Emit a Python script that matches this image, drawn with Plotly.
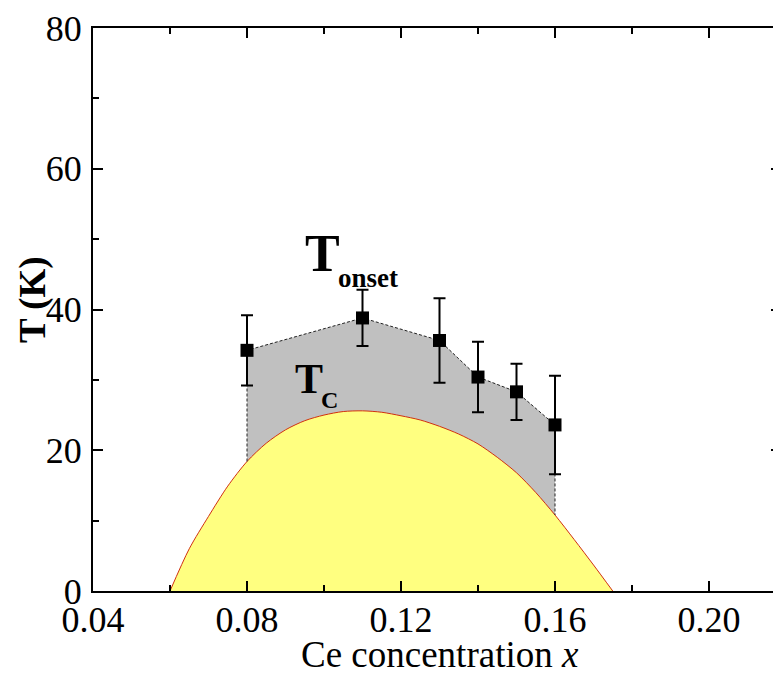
import plotly.graph_objects as go

# T_onset data (squares with error bars)
x_onset = [0.08, 0.11, 0.13, 0.14, 0.15, 0.16]
t_onset = [34.2, 38.8, 35.6, 30.4, 28.3, 23.6]
t_onset_err = [5.0, 4.0, 6.0, 5.0, 4.0, 7.0]

# Tc dome (yellow region)
x_tc = [0.060, 0.065, 0.070, 0.075, 0.080, 0.085, 0.090, 0.095, 0.100, 0.105,
        0.110, 0.115, 0.120, 0.125, 0.130, 0.135, 0.140, 0.145, 0.150, 0.155,
        0.160, 0.165, 0.170, 0.175]
t_tc = [0.0, 6.0, 10.6, 14.9, 18.4, 21.0, 22.9, 24.2, 25.0, 25.5,
        25.6, 25.4, 24.9, 24.3, 23.4, 22.3, 20.9, 19.0, 16.8, 14.0,
        10.8, 7.3, 3.7, 0.0]

x_ticks = [0.04, 0.08, 0.12, 0.16, 0.20]
x_tick_labels = ["0.04", "0.08", "0.12", "0.16", "0.20"]
y_ticks = [0, 20, 40, 60, 80]

tc_start = t_tc[x_tc.index(x_onset[0])]
tc_end = t_tc[x_tc.index(x_onset[-1])]

FONT = "Liberation Serif, Times New Roman, serif"

# page body has an 8px default margin: figure is placed at (8, 8)
OFF = 8
PL, PT, PB = 93, 28, 591          # plot-area edges in page pixels
FIG_W, FIG_H = 781 - OFF, 681 - 2 * OFF

fig = go.Figure()

# grey region between Tc and T_onset
fig.add_trace(go.Scatter(
    x=[x_onset[0]] + x_onset + [x_onset[-1]],
    y=[0] + t_onset + [0],
    fill="toself", fillcolor="#c0c0c0", mode="none", showlegend=False,
    hoverinfo="skip"))

# yellow Tc dome
fig.add_trace(go.Scatter(
    x=x_tc, y=t_tc, fill="tozeroy", fillcolor="#ffff80",
    mode="lines", line=dict(color="#d03010", width=1, shape="spline", smoothing=0.8),
    showlegend=False, hoverinfo="skip"))

# dashed outline of T_onset region
fig.add_trace(go.Scatter(
    x=[x_onset[0]] + x_onset + [x_onset[-1]],
    y=[tc_start] + t_onset + [tc_end],
    mode="lines", line=dict(color="#222222", width=1, dash="3px,2px"),
    showlegend=False, hoverinfo="skip"))

# T_onset points
fig.add_trace(go.Scatter(
    x=x_onset, y=t_onset, mode="markers",
    marker=dict(symbol="square", size=13, color="black"),
    error_y=dict(type="data", array=t_onset_err, visible=True,
                 color="black", thickness=2, width=6),
    showlegend=False))

# invisible trace to activate right-hand tick axis
fig.add_trace(go.Scatter(x=[0.05], y=[0], yaxis="y2", mode="markers",
                         marker=dict(opacity=0), showlegend=False, hoverinfo="skip"))

plot_w = FIG_W - (PL - OFF)
plot_h = PB - PT

fig.update_layout(
    width=FIG_W, height=FIG_H,
    margin=dict(l=PL - OFF, r=0, t=PT - OFF, b=FIG_H - (PB - OFF), autoexpand=False),
    paper_bgcolor="white", plot_bgcolor="white",
    font=dict(family=FONT, color="black"),
    xaxis=dict(
        range=[0.04, 0.04 + plot_w / 3850], tickmode="array",
        tickvals=x_ticks, ticktext=x_tick_labels, automargin=False,
        ticks="inside", ticklen=10, tickwidth=2, tickcolor="black",
        showline=True, linewidth=2, linecolor="black", mirror="ticks",
        showgrid=False, zeroline=False, ticklabelstandoff=-4,
        tickfont=dict(size=36, family=FONT, color="black"),
        minor=dict(dtick=0.02, tick0=0.06, ticks="inside", ticklen=6,
                   tickwidth=2, tickcolor="black", showgrid=False),
    ),
    yaxis=dict(
        range=[0, 80], tickmode="array", tickvals=y_ticks, automargin=False,
        ticks="inside", ticklen=10, tickwidth=2, tickcolor="black",
        showline=True, linewidth=2, linecolor="black", mirror=False,
        showgrid=False, zeroline=False, ticklabelstandoff=2,
        tickfont=dict(size=36, family=FONT, color="black"),
        minor=dict(dtick=10, tick0=10, ticks="inside", ticklen=6,
                   tickwidth=2, tickcolor="black", showgrid=False),
    ),
    yaxis2=dict(
        overlaying="y", side="right", range=[0, 80], tickmode="array",
        tickvals=y_ticks, ticks="inside", ticklen=10, tickwidth=2,
        tickcolor="black", showticklabels=False, showline=False,
        showgrid=False, zeroline=False, automargin=False,
        minor=dict(dtick=10, tick0=10, ticks="inside", ticklen=5,
                   tickwidth=1, tickcolor="#bbbbbb", showgrid=False),
    ),
    annotations=[
        # axis titles
        dict(text="Ce concentration <i>x</i>", x=(440 - PL) / plot_w,
             y=-(654 - PB) / plot_h,
             xref="paper", yref="paper", xanchor="center", yanchor="middle",
             showarrow=False, font=dict(size=37, family=FONT, color="black")),
        dict(text="<b>T (K)</b>", x=-(PL - 33) / plot_w, y=(PB - 300) / plot_h,
             xref="paper", yref="paper", xanchor="center", yanchor="middle",
             textangle=-90, showarrow=False,
             font=dict(size=37, family=FONT, color="black")),
        # T_onset label
        dict(text="<b>T</b>", x=0.0946, y=48.0, xref="x", yref="y",
             xanchor="left", yanchor="middle", showarrow=False,
             font=dict(size=52, family=FONT, color="black")),
        dict(text="<b>onset</b>", x=0.1030, y=44.5, xref="x", yref="y",
             xanchor="left", yanchor="middle", showarrow=False,
             font=dict(size=27, family=FONT, color="black")),
        # T_C label
        dict(text="<b>T</b>", x=0.0920, y=30.1, xref="x", yref="y",
             xanchor="left", yanchor="middle", showarrow=False,
             font=dict(size=42, family=FONT, color="black")),
        dict(text="<b>C</b>", x=0.0988, y=27.1, xref="x", yref="y",
             xanchor="left", yanchor="middle", showarrow=False,
             font=dict(size=24, family=FONT, color="black")),
    ],
)

fig.write_html("out.html")
